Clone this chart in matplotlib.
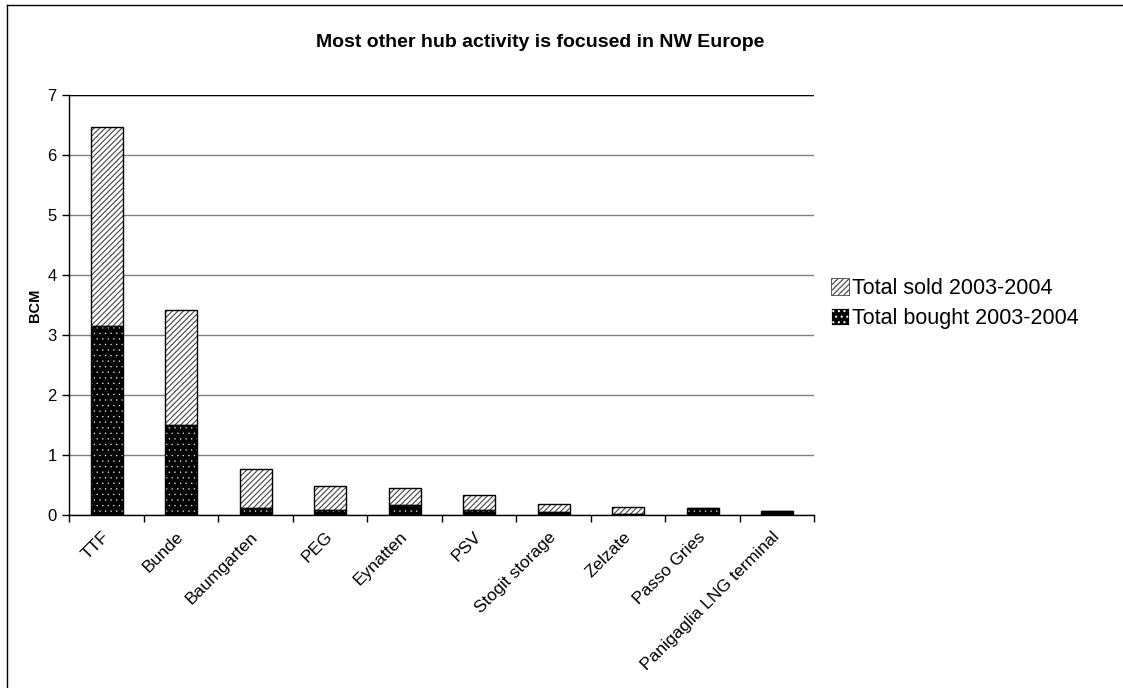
import numpy as np
import matplotlib.pyplot as plt
from matplotlib.lines import Line2D
from matplotlib.patches import Patch

plt.rcParams['font.family'] = ['Liberation Sans', 'DejaVu Sans']

hubs = ['TTF', 'Bunde', 'Baumgarten', 'PEG', 'Eynatten', 'PSV',
        'Stogit storage', 'Zelzate', 'Passo Gries', 'Panigaglia LNG terminal']
bought = [3.15, 1.50, 0.11, 0.08, 0.17, 0.09, 0.05, 0.01, 0.12, 0.06]
sold = [3.32, 1.92, 0.65, 0.40, 0.28, 0.25, 0.14, 0.12, 0.0, 0.0]
yticks = [0, 1, 2, 3, 4, 5, 6, 7]

fig = plt.figure(figsize=(11.23, 6.88), dpi=100)
ax = fig.add_axes([0.0617, 0.2515, 0.6634, 0.6104])

x = np.arange(len(hubs))
w = 0.43

# bought: black with small white dots
plt.rcParams['hatch.linewidth'] = 0.2
ax.bar(x, bought, w, color='black', edgecolor='white', hatch='...', linewidth=0, zorder=3)
dot_patch = Patch(facecolor='black', edgecolor='white', hatch='...')
ax.bar(x, bought, w, fill=False, edgecolor='black', linewidth=1, zorder=4)
# sold: white with diagonal lines
plt.rcParams['hatch.linewidth'] = 0.8
ax.bar(x, sold, w, bottom=bought, color='white', edgecolor='#444444', hatch='//////',
       linewidth=0, zorder=3)
line_patch = Patch(facecolor='white', edgecolor='#444444', hatch='//////')
ax.bar(x, sold, w, bottom=bought, fill=False, edgecolor='black', linewidth=1, zorder=4)

ax.set_xlim(-0.5, len(hubs) - 0.5)
ax.set_ylim(0, 7)
ax.set_yticks(yticks)
ax.tick_params(axis='y', length=5, width=1, labelsize=12, pad=4)
ax.yaxis.grid(True, color='#808080', linewidth=1, zorder=0)
ax.set_axisbelow(True)

ax.set_xticks(np.arange(-0.5, len(hubs), 1.0))
ax.set_xticklabels([])
ax.tick_params(axis='x', which='major', length=5, width=1, direction='out')
ax.set_xticks(x, minor=True)
ax.set_xticklabels(hubs, minor=True, rotation=45, ha='right', va='center',
                   rotation_mode='anchor', fontsize=12.5)
ax.tick_params(axis='x', which='minor', length=0, pad=14)

for s in ['top', 'right']:
    ax.spines[s].set_visible(False)
ax.spines['left'].set_linewidth(1)
ax.spines['bottom'].set_linewidth(1)
ax.axhline(7, color='black', linewidth=1, zorder=1)

ax.set_ylabel('BCM', fontsize=10.5, fontweight='bold', labelpad=4)

fig.text(0.481, 0.938, 'Most other hub activity is focused in NW Europe',
         ha='center', va='center', fontsize=14, fontweight='bold')

leg = fig.legend([line_patch, dot_patch], ['Total sold 2003-2004', 'Total bought 2003-2004'],
                 loc='center left', bbox_to_anchor=(0.730, 0.559), frameon=False,
                 fontsize=15.5, handlelength=0.85, handleheight=0.85, handletextpad=0.15,
                 labelspacing=0.4, borderpad=0)
for p in leg.get_patches():
    p.set_linewidth(0.6)

# chart frame (left and top edges only visible)
fig.add_artist(Line2D([0.0062, 0.0062], [0, 0.9927], transform=fig.transFigure,
                      color='black', linewidth=1))
fig.add_artist(Line2D([0.0062, 1], [0.9927, 0.9927], transform=fig.transFigure,
                      color='black', linewidth=1))

fig.savefig('out.png', dpi=100)
